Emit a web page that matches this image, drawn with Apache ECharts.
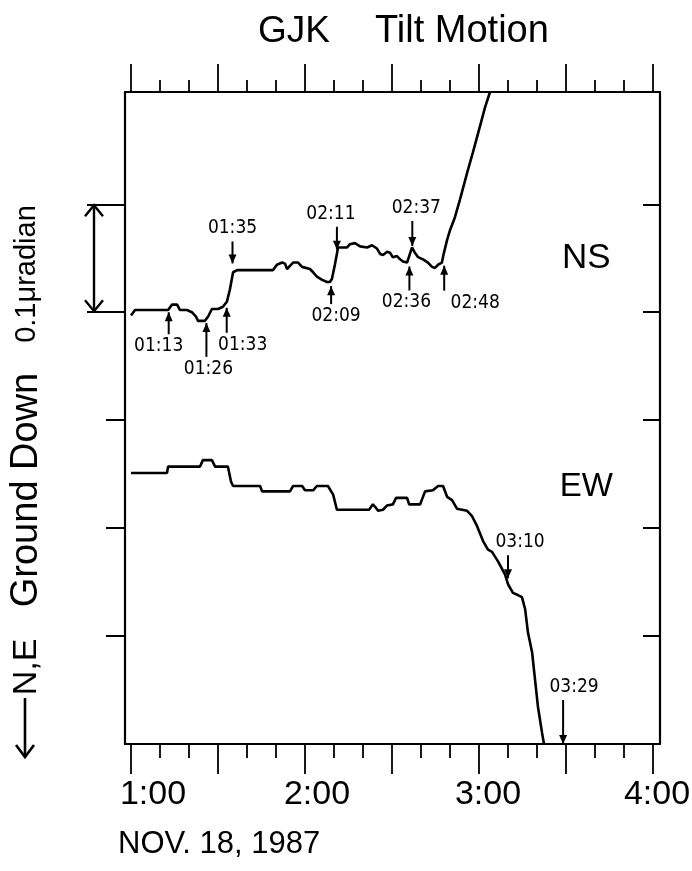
<!DOCTYPE html>
<html>
<head>
<meta charset="utf-8">
<script src="https://cdn.jsdelivr.net/npm/echarts@6/dist/echarts.min.js"></script>
<style>
html,body{margin:0;padding:0;background:#fff;}
#c{width:692px;height:871px;}
</style>
</head>
<body>
<div id="c"></div>
<script>
// ---------- DATA (time in minutes after 0:00, tilt in units of 0.1 µradian) ----------
const nsTime = [60, 61.4, 72.8, 74.1, 75.9, 76.9, 79.3, 81.0, 82.4, 83.1, 85.5, 86.6, 87.9, 90.0, 91.7, 93.1, 94.1, 95.2, 96.6,
  109.0, 110.3, 112.1, 113.1, 113.8, 114.8, 115.9, 117.6, 119.0, 121.7, 122.8, 124.1, 125.9, 127.6, 128.6, 129.3, 130.3, 131.4,
  134.5, 135.5, 137.2, 139.0, 141.4, 143.1, 144.8, 145.9, 146.9, 148.3, 149.3, 150.3, 151.7, 152.8, 153.8, 155.2, 155.5, 156.9,
  157.9, 159.0, 160.7, 162.4, 163.8, 164.8, 165.9, 167.2, 167.9, 169.0, 170.0, 171.7, 173.4, 175.9, 177.9, 180.3, 182.1, 183.8];
const nsTilt = [3.97, 4.02, 4.02, 4.07, 4.07, 4.02, 4.02, 4.00, 3.96, 3.92, 3.92, 3.96, 4.03, 4.03, 4.05, 4.10, 4.21, 4.37, 4.39,
  4.39, 4.44, 4.46, 4.45, 4.40, 4.43, 4.46, 4.46, 4.42, 4.40, 4.37, 4.33, 4.30, 4.28, 4.28, 4.31, 4.44, 4.60,
  4.60, 4.63, 4.64, 4.61, 4.60, 4.62, 4.59, 4.54, 4.53, 4.56, 4.55, 4.51, 4.52, 4.49, 4.47, 4.46, 4.47, 4.60,
  4.55, 4.51, 4.49, 4.46, 4.42, 4.41, 4.44, 4.46, 4.55, 4.67, 4.76, 4.88, 5.04, 5.29, 5.48, 5.72, 5.90, 6.04];
const ewTime = [60, 72.4, 72.8, 83.8, 84.8, 87.9, 89.0, 93.4, 94.5, 95.2, 104.5, 105.2, 114.8, 115.9, 119.0, 120.0, 122.8, 124.1,
  127.9, 129.7, 131.0, 142.1, 143.4, 144.1, 145.2, 146.9, 148.3, 150.3, 151.4, 155.2, 155.9, 159.7, 161.4, 164.1, 165.9, 167.6,
  169.0, 170.7, 172.4, 175.9, 177.6, 179.3, 181.4, 183.1, 184.5, 186.6, 189.0, 190.0, 191.7, 193.4, 194.8, 195.9, 196.9, 198.3,
  199.3, 200.3, 201.7, 202.4];
const ewTilt = [2.51, 2.51, 2.57, 2.57, 2.63, 2.63, 2.57, 2.57, 2.43, 2.39, 2.39, 2.34, 2.34, 2.39, 2.39, 2.35, 2.35, 2.39,
  2.39, 2.31, 2.17, 2.17, 2.22, 2.20, 2.16, 2.17, 2.21, 2.22, 2.28, 2.28, 2.22, 2.22, 2.34, 2.35, 2.39, 2.39,
  2.29, 2.26, 2.18, 2.16, 2.11, 2.02, 1.88, 1.80, 1.78, 1.69, 1.57, 1.48, 1.40, 1.38, 1.36, 1.25, 1.03, 0.85,
  0.60, 0.35, 0.11, 0.0];
const hourTicks = [60, 120, 180, 240];
const majorTicks = [60, 90, 120, 150, 180, 210, 240];
const minorTicks = [70, 80, 100, 110, 130, 140, 160, 170, 190, 200, 220, 230];
const yTicks = [1, 2, 3, 4, 5];
const nsEvents = ['01:13', '01:26', '01:33', '01:35', '02:09', '02:11', '02:36', '02:37', '02:48'];
const ewEvents = ['03:10', '03:29'];
const seriesNames = ['NS', 'EW'];

// ---------- LAYOUT ----------
const FONT = '"Liberation Sans", Arial, sans-serif';
const NARROW = '"Liberation Sans Narrow", "DejaVu Sans Condensed", "Liberation Sans", sans-serif';
const X_MIN = 57.93, X_MAX = 242.41, Y_MIN = 0, Y_MAX = 6.04;
const black = '#000';
const labelShift = [44, 24, 18, 8];   // left padding of the hour labels (hand-lettered offsets)

const chart = echarts.init(document.getElementById('c'), null, {renderer: 'canvas'});

const rich = {};
labelShift.forEach((p, i) => { rich['h' + i] = {fontSize: 34, fontFamily: FONT, color: black, padding: [0, 0, 0, p]}; });

function xAx(pos, ticks, len, showLine, labels) {
  return {
    type: 'value', position: pos, min: X_MIN, max: X_MAX,
    splitLine: {show: false},
    axisLine: {show: showLine, onZero: false, lineStyle: {color: black, width: 2.2}},
    axisTick: {show: true, customValues: ticks, length: len, lineStyle: {color: black, width: 1.8}},
    axisLabel: labels ? {
      show: true, customValues: hourTicks, margin: 34, color: black, fontSize: 34, fontFamily: FONT,
      hideOverlap: false, rich: rich,
      formatter: v => {
        const i = hourTicks.indexOf(Math.round(v));
        return '{h' + Math.max(0, i) + '|' + Math.floor(v / 60) + ':' + String(Math.round(v % 60)).padStart(2, '0') + '}';
      }
    } : {show: false}
  };
}
function yAx(pos, ticks, len, inside, showLine) {
  return {
    type: 'value', position: pos, min: Y_MIN, max: Y_MAX,
    splitLine: {show: false},
    axisLine: {show: showLine, onZero: false, lineStyle: {color: black, width: 2.2}},
    axisTick: {show: true, inside: inside, customValues: ticks, length: len, lineStyle: {color: black, width: 2}},
    axisLabel: {show: false}
  };
}
const zip = (a, b) => a.map((v, i) => [v, b[i]]);

chart.setOption({
  animation: false,
  backgroundColor: '#fff',
  grid: {left: 125, right: 32, top: 92, bottom: 127, containLabel: false, outerBoundsMode: 'none'},
  xAxis: [
    xAx('bottom', majorTicks, 30, true, true),
    xAx('bottom', minorTicks, 14, false, false),
    xAx('top', majorTicks, 28, true, false),
    xAx('top', minorTicks, 12, false, false)
  ],
  yAxis: [
    yAx('left', yTicks.slice(0, 3), 19, false, true),
    yAx('left', yTicks.slice(3), 38, false, false),
    yAx('right', yTicks, 17, true, true)
  ],
  series: [
    {name: seriesNames[0], type: 'line', data: zip(nsTime, nsTilt), symbol: 'none', clip: true,
     lineStyle: {color: black, width: 2.6}},
    {name: seriesNames[1], type: 'line', data: zip(ewTime, ewTilt), symbol: 'none', clip: true,
     lineStyle: {color: black, width: 2.6}}
  ]
});

// ---------- ANNOTATIONS ----------
function interp(ts, vs, t) {
  for (let i = 1; i < ts.length; i++) {
    if (t <= ts[i]) {
      const f = (t - ts[i - 1]) / (ts[i] - ts[i - 1]);
      return vs[i - 1] + f * (vs[i] - vs[i - 1]);
    }
  }
  return Y_MIN;
}
const toMin = s => { const p = s.split(':'); return (+p[0]) * 60 + (+p[1]); };
const px = (x, y) => chart.convertToPixel({xAxisIndex: 0, yAxisIndex: 0}, [x, y]);

// arrow style per event: dir, gap from curve, length, label dx
const nsStyle = [
  {dir: 'up', gap: 3, len: 22, dx: -10},
  {dir: 'up', gap: 4, len: 34, dx: 2},
  {dir: 'up', gap: 6, len: 25, dx: 16},
  {dir: 'down', gap: 12, len: 22, dx: 0},
  {dir: 'up', gap: 6, len: 18, dx: 5},
  {dir: 'down', gap: 4, len: 23, dx: -6},
  {dir: 'up', gap: 10, len: 24, dx: -3},
  {dir: 'down', gap: 2, len: 25, dx: 4},
  {dir: 'up', gap: 14, len: 25, dx: 31}
];
const ewStyle = [
  {dir: 'down', gap: 6, len: 23, dx: 12},
  {dir: 'down', gap: 0, len: 44, dx: 11}
];

const g = [];
function arrow(x, tipY, tailY) {
  const up = tipY < tailY;
  g.push({type: 'line', shape: {x1: x, y1: tailY, x2: x, y2: tipY}, style: {stroke: black, lineWidth: 2}});
  const h = up ? 9 : -9;
  g.push({type: 'polygon', shape: {points: [[x, tipY], [x - 4, tipY + h], [x + 4, tipY + h]]}, style: {fill: black}});
}
function addEvents(labels, styles, ts, vs) {
  labels.forEach((lab, i) => {
    const st = styles[i];
    const t = toMin(lab);
    const p = px(t, Math.max(Y_MIN, interp(ts, vs, t)));
    let tip, tail, ly;
    if (st.dir === 'up') { tip = p[1] + st.gap; tail = tip + st.len; ly = tail + 12; }
    else { tip = p[1] - st.gap; tail = tip - st.len; ly = tail - 13; }
    arrow(p[0], tip, tail);
    g.push({type: 'text', x: p[0] + st.dx, y: ly,
      style: {text: lab, fill: black, fontSize: 19, fontFamily: NARROW, align: 'center', verticalAlign: 'middle'}});
  });
}
addEvents(nsEvents, nsStyle, nsTime, nsTilt);
addEvents(ewEvents, ewStyle, ewTime, ewTilt);

// series names
const pNS = px(217, 4.5), pEW = px(217, 2.38);
g.push({type: 'text', x: pNS[0], y: pNS[1], style: {text: seriesNames[0], fill: black, fontSize: 35, fontFamily: FONT, align: 'center', verticalAlign: 'middle'}});
g.push({type: 'text', x: pEW[0], y: pEW[1], style: {text: seriesNames[1], fill: black, fontSize: 33, fontFamily: FONT, align: 'center', verticalAlign: 'middle'}});

// scale bracket 0.1 µradian (between y ticks 4 and 5)
const b4 = px(X_MIN, 4), b5 = px(X_MIN, 5);
const bx = b4[0] - 31;
g.push({type: 'line', shape: {x1: bx, y1: b5[1], x2: bx, y2: b4[1]}, style: {stroke: black, lineWidth: 2.4}});
g.push({type: 'polyline', shape: {points: [[bx - 9, b5[1] + 12], [bx, b5[1] + 1], [bx + 9, b5[1] + 12]]}, style: {stroke: black, lineWidth: 2.4, fill: null}});
g.push({type: 'polyline', shape: {points: [[bx - 9, b4[1] - 12], [bx, b4[1] - 1], [bx + 9, b4[1] - 12]]}, style: {stroke: black, lineWidth: 2.4, fill: null}});

// vertical axis description
const vt = (text, y, size) => g.push({type: 'text', x: 27, y: y, rotation: Math.PI / 2,
  style: {text: text, fill: black, fontSize: size, fontFamily: FONT, align: 'center', verticalAlign: 'middle'}});
vt('0.1\u03bcradian', 274, 29);
vt('Ground Down', 490, 38);
vt('N,E', 667, 34);
g.push({type: 'line', shape: {x1: 25, y1: 698, x2: 25, y2: 757}, style: {stroke: black, lineWidth: 2.6}});
g.push({type: 'polyline', shape: {points: [[16, 745], [25, 757], [34, 745]]}, style: {stroke: black, lineWidth: 2.6, fill: null}});

// title and date
g.push({type: 'text', x: 258, y: 32, style: {text: 'GJK', fill: black, fontSize: 37, fontFamily: FONT, verticalAlign: 'middle'}});
g.push({type: 'text', x: 375, y: 32, style: {text: 'Tilt Motion', fill: black, fontSize: 38, fontFamily: FONT, verticalAlign: 'middle'}});
g.push({type: 'text', x: 118, y: 844, style: {text: 'NOV. 18, 1987', fill: black, fontSize: 31, fontFamily: FONT, verticalAlign: 'middle'}});

chart.setOption({graphic: g});
</script>
</body>
</html>
